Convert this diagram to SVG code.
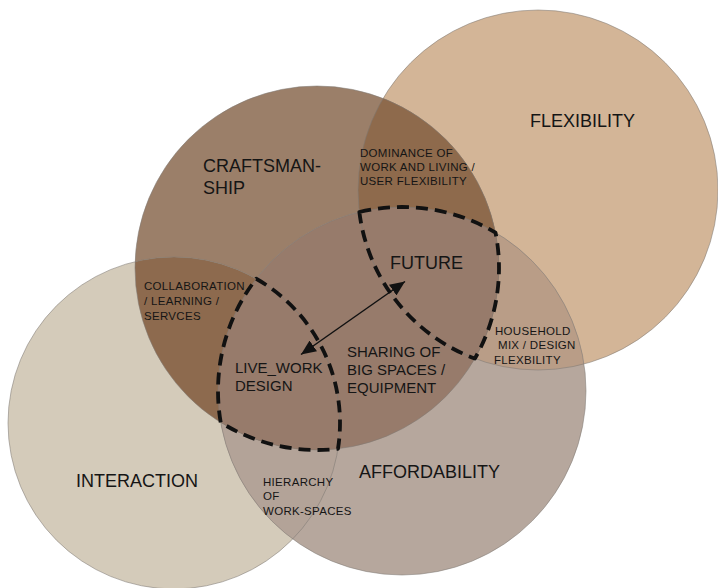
<svg xmlns="http://www.w3.org/2000/svg" width="718" height="588" viewBox="0 0 718 588">
  <style>
    .big { font-family: "Liberation Sans", Arial, sans-serif; font-size: 18px; fill: #151515; }
    .mid { font-family: "Liberation Sans", Arial, sans-serif; font-size: 15px; fill: #151515; }
    .small { font-family: "Liberation Sans", Arial, sans-serif; font-size: 11.5px; fill: #151515; letter-spacing: 0.3px; }
    .outline { fill: none; stroke: #7f7a75; stroke-opacity: 0.55; stroke-width: 1; }
    .lens { fill: none; stroke: #111; stroke-width: 3.8; stroke-dasharray: 12 7; stroke-linejoin: round; }
    .arrow { stroke: #111; stroke-width: 1.5; fill: none; }
  </style>
  <defs>
    <clipPath id="clip-craft"><circle cx="317" cy="268" r="182"/></clipPath>
    <clipPath id="clip-afford"><circle cx="402" cy="391" r="184"/></clipPath>
    <marker id="head" viewBox="0 0 15 13" refX="15" refY="6.5" markerWidth="15" markerHeight="13" markerUnits="userSpaceOnUse" orient="auto-start-reverse">
      <path d="M0,0 L15,6.5 L0,13 Z" fill="#111"/>
    </marker>
  </defs>

  <rect x="0" y="0" width="718" height="588" fill="#ffffff"/>

  <g id="flexibility">
    <circle cx="538" cy="190" r="180" fill="#d3b597"/>
    <text class="big" x="530" y="127">FLEXIBILITY</text>
  </g>
  <g id="craftsmanship">
    <circle cx="317" cy="268" r="182" fill="#9b7f69"/>
    <text class="big" x="203" y="172">CRAFTSMAN-</text>
    <text class="big" x="203" y="194">SHIP</text>
  </g>
  <g id="interaction">
    <circle cx="174" cy="423" r="166" fill="#d4cbba"/>
    <text class="big" x="76" y="487">INTERACTION</text>
  </g>
  <g id="affordability">
    <circle cx="402" cy="391" r="184" fill="#b6a79d"/>
    <text class="big" x="359" y="478">AFFORDABILITY</text>
  </g>

  <g id="overlaps">
    <g clip-path="url(#clip-afford)">
      <circle cx="538" cy="190" r="180" fill="#b99d87"/>
      <circle cx="174" cy="423" r="166" fill="#b3a398"/>
    </g>
    <g clip-path="url(#clip-craft)">
      <circle cx="538" cy="190" r="180" fill="#8e6a4c"/>
      <circle cx="174" cy="423" r="166" fill="#8d6a4e"/>
      <circle cx="402" cy="391" r="184" fill="#977b6b"/>
    </g>
  </g>

  <g id="outlines">
    <circle class="outline" cx="538" cy="190" r="180"/>
    <circle class="outline" cx="317" cy="268" r="182"/>
    <circle class="outline" cx="174" cy="423" r="166"/>
    <circle class="outline" cx="402" cy="391" r="184"/>
  </g>

  <g id="dominance">
    <text class="small" x="360" y="157">DOMINANCE OF</text>
    <text class="small" x="360" y="171">WORK AND LIVING /</text>
    <text class="small" x="360" y="185">USER FLEXIBILITY</text>
  </g>
  <g id="collaboration">
    <text class="small" x="144" y="290">COLLABORATION</text>
    <text class="small" x="144" y="305">/ LEARNING /</text>
    <text class="small" x="144" y="320">SERVCES</text>
  </g>
  <g id="household">
    <text class="small" x="495" y="335">HOUSEHOLD</text>
    <text class="small" x="498" y="349">MIX / DESIGN</text>
    <text class="small" x="494" y="364">FLEXBILITY</text>
  </g>
  <g id="hierarchy">
    <text class="small" x="263" y="486">HIERARCHY</text>
    <text class="small" x="263" y="500">OF</text>
    <text class="small" x="263" y="515">WORK-SPACES</text>
  </g>
  <g id="sharing">
    <text class="mid" x="347" y="357">SHARING OF</text>
    <text class="mid" x="347" y="375">BIG SPACES /</text>
    <text class="mid" x="347" y="393">EQUIPMENT</text>
  </g>

  <g id="future">
    <path class="lens" d="M359.35,212 A184,184 0 0 1 495.51,232.54 A182,182 0 0 1 474.87,358.56 A180,180 0 0 1 359.35,212 Z"/>
    <text class="big" x="390" y="269">FUTURE</text>
  </g>
  <g id="live-work">
    <path class="lens" d="M256.2,278.77 A166,166 0 0 1 337.99,448.78 A182,182 0 0 1 220.71,422.44 A184,184 0 0 1 256.2,278.77 Z"/>
    <text class="mid" x="235" y="373">LIVE_WORK</text>
    <text class="mid" x="235" y="391">DESIGN</text>
  </g>

  <g id="connectors">
    <line class="arrow" x1="301" y1="354.5" x2="405" y2="281.5" marker-start="url(#head)" marker-end="url(#head)"/>
  </g>
</svg>
